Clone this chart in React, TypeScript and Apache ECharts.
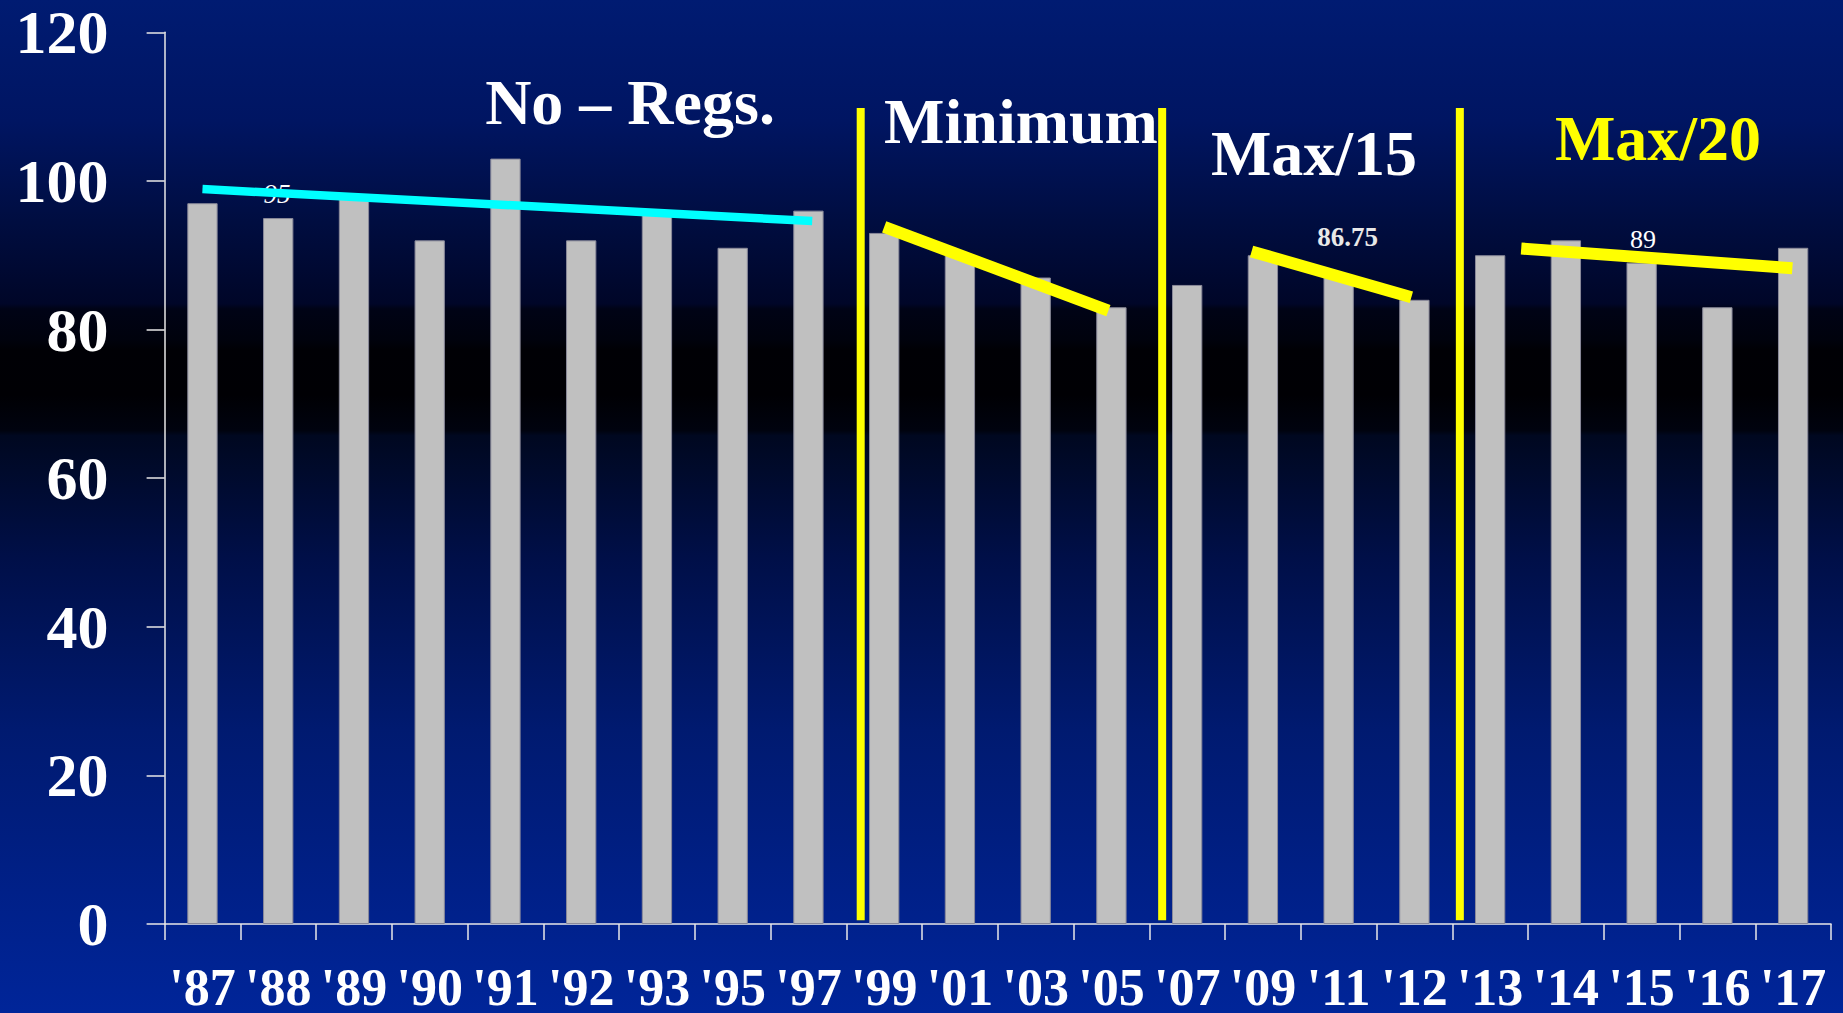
import React, { useEffect, useRef } from "react";
import * as echarts from "echarts";

const categories = ["'87", "'88", "'89", "'90", "'91", "'92", "'93", "'95", "'97", "'99", "'01", "'03", "'05", "'07", "'09", "'11", "'12", "'13", "'14", "'15", "'16", "'17"];
const values = [97, 95, 98, 92, 103, 92, 96, 91, 96, 93, 90, 87, 83, 86, 90, 87, 84, 90, 92, 89, 83, 91];

// trend lines: [category position, value]
const noRegsTrend = [[0, 98.9], [8.05, 94.6]];
const minimumTrend = [[9.0, 93.8], [11.96, 82.55]];
const max15Trend = [[13.85, 90.5], [15.96, 84.35]];
const max20Trend = [[17.41, 90.9], [20.99, 88.25]];
const dividerPositions = [8.69, 12.67, 16.6];
const dividerRange = [0.5, 109.8];

const eraLabels = ["No – Regs.", "Minimum", "Max/15", "Max/20"];
const averageLabels = ["95", "86.75", "89"];

const SERIF = '"Liberation Serif", "Times New Roman", serif';

export default function App() {
  const ref = useRef<HTMLDivElement>(null);

  useEffect(() => {
    if (!ref.current) return;
    const chart = echarts.init(ref.current, null, { renderer: "svg" });

    const lineSeries = (data: number[][], color: string, width: number) => ({
      type: "line",
      xAxisIndex: 1,
      data,
      symbol: "none",
      silent: true,
      z: 5,
      lineStyle: { color, width, cap: "butt" },
    });

    const dividers = dividerPositions.map((x) =>
      lineSeries([[x, dividerRange[0]], [x, dividerRange[1]]], "#ffff00", 8)
    );

    const txt = (text: string, x: number, y: number, font: string, fill: string, z = 10) => ({
      type: "text",
      x,
      y,
      z,
      silent: true,
      style: { text, font, fill, align: "center", verticalAlign: "middle", textAlign: "center", textVerticalAlign: "middle" },
    });

    const bigFont = `bold 64px ${SERIF}`;

    chart.setOption({
      animation: false,
      backgroundColor: new echarts.graphic.LinearGradient(0, 0, 0, 1, [
        { offset: 0, color: "#001b72" },
        { offset: 0.12, color: "#001562" },
        { offset: 0.22, color: "#000d40" },
        { offset: 0.3, color: "#000628" },
        { offset: 0.305, color: "#000316" },
        { offset: 0.335, color: "#00020d" },
        { offset: 0.345, color: "#000005" },
        { offset: 0.39, color: "#000004" },
        { offset: 0.425, color: "#00030f" },
        { offset: 0.43, color: "#000820" },
        { offset: 0.55, color: "#000f48" },
        { offset: 0.72, color: "#001a70" },
        { offset: 0.88, color: "#002088" },
        { offset: 1, color: "#002599" },
      ]),
      grid: { left: 164.6, right: 12, top: 32.3, bottom: 85.3 },
      xAxis: [
        {
          type: "category",
          data: categories,
          axisLine: { lineStyle: { color: "#e8e8e8", width: 1.5 } },
          axisTick: { show: true, length: 16, lineStyle: { color: "#e8e8e8", width: 1.5 } },
          axisLabel: {
            interval: 0,
            color: "#ffffff",
            fontFamily: SERIF,
            fontWeight: "bold",
            fontSize: 52,
            lineHeight: 44,
            margin: 41,
          },
          splitLine: { show: false },
        },
        {
          type: "value",
          min: -0.5,
          max: 21.5,
          show: false,
          splitLine: { show: false },
        },
      ],
      yAxis: {
        type: "value",
        min: 0,
        max: 120,
        interval: 20,
        axisLine: { show: true, onZero: false, lineStyle: { color: "#e8e8e8", width: 1.5 } },
        axisTick: { show: true, length: 18, lineStyle: { color: "#e8e8e8", width: 1.5 } },
        axisLabel: {
          color: "#ffffff",
          fontFamily: SERIF,
          fontWeight: "bold",
          fontSize: 62,
          lineHeight: 50,
          margin: 56,
        },
        splitLine: { show: false },
      },
      series: [
        {
          type: "bar",
          data: values,
          barWidth: "40%",
          silent: true,
          z: 2,
          itemStyle: { color: "#c0c0c0", borderColor: "#8a8a9a", borderWidth: 1 },
        },
        lineSeries(noRegsTrend, "#00ffff", 8.5),
        lineSeries(minimumTrend, "#ffff00", 12),
        lineSeries(max15Trend, "#ffff00", 12),
        lineSeries(max20Trend, "#ffff00", 12),
        ...dividers,
      ],
      graphic: [
        txt(averageLabels[0], 277, 194, `italic 27px ${SERIF}`, "#ffffff", 1),
        txt(eraLabels[0], 630, 102.5, bigFont, "#ffffff"),
        txt(eraLabels[1], 1021, 121, bigFont, "#ffffff"),
        txt(eraLabels[2], 1314, 153.5, bigFont, "#ffffff"),
        txt(eraLabels[3], 1658, 138, bigFont, "#ffff00"),
        txt(averageLabels[1], 1347.5, 237, `bold 27px ${SERIF}`, "#e8e8e8"),
        txt(averageLabels[2], 1643, 239, `26px ${SERIF}`, "#ffffff"),
      ],
    });

    return () => chart.dispose();
  }, []);

  return (
    <div
      ref={ref}
      style={{ position: "fixed", left: 0, top: 0, width: 1843, height: 1013 }}
    />
  );
}
